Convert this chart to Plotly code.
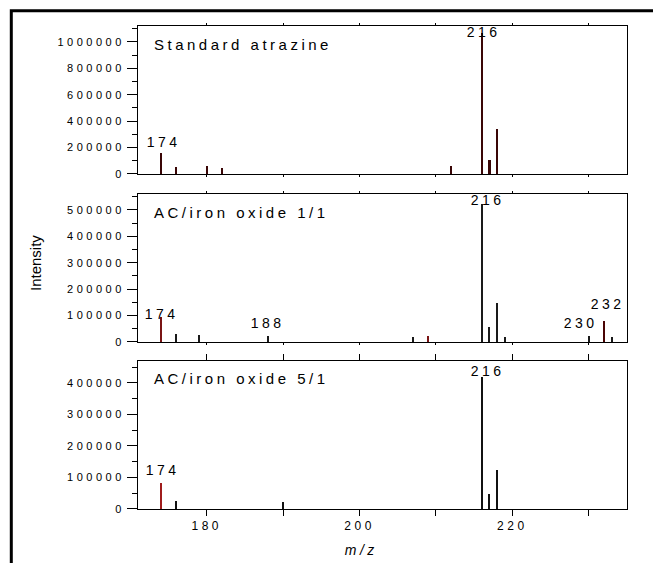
import plotly.graph_objects as go

# ---------------- data ----------------
panel_titles = ["Standard atrazine", "AC/iron oxide 1/1", "AC/iron oxide 5/1"]

mz_standard = [174, 176, 180, 182, 212, 216, 217, 218]
int_standard = [157000, 55000, 63000, 48000, 63000, 1065000, 106000, 341000]

mz_ac11 = [174, 176, 179, 188, 207, 209, 216, 217, 218, 219, 230, 232, 233]
int_ac11 = [95500, 32000, 25000, 23000, 20000, 24000, 521000, 58000, 146000, 20000, 23000, 80000, 18000]

mz_ac51 = [174, 176, 190, 216, 217, 218]
int_ac51 = [84000, 26000, 23000, 420000, 49000, 125000]

labels_standard = [174, 216]
labels_ac11 = [174, 188, 216, 230, 232]
labels_ac51 = [174, 216]

x_tick_values = [180, 190, 200, 210, 220, 230]
x_tick_labels = ["180", "", "200", "", "220", ""]
x_title = "<i>m/z</i>"
y_title = "Intensity"

# ---------------- style ----------------
FONT = "Arial, 'Liberation Sans', sans-serif"
PX_PER_UNIT = 489 / 64.0

panels = [
    dict(mz=mz_standard, val=int_standard, labels=labels_standard, yr=[0, 1120000], dt=200000, mdt=100000,
         dom=[0.6936, 1.0], default_color="#3a0606", special={}, default_w=2.2, special_w={},
         shifts={174: (3, 11), 216: (2, 1)}, title_y=0.872),
    dict(mz=mz_ac11, val=int_ac11, labels=labels_ac11, yr=[0, 560000], dt=100000, mdt=50000,
         dom=[0.3458, 0.6522], default_color="#1a1a1a",
         special={174: "#7a1414", 209: "#7a1414", 232: "#4a0404"}, default_w=1.2,
         special_w={232: 2.4, 174: 1.4},
         shifts={174: (1, 3), 188: (0, 13), 216: (6, 4), 230: (-8, 13), 232: (4, 17)}, title_y=0.872),
    dict(mz=mz_ac51, val=int_ac51, labels=labels_ac51, yr=[0, 470000], dt=100000, mdt=50000,
         dom=[0.0, 0.307], default_color="#111111", special={174: "#a01c1c"}, default_w=1.2,
         special_w={174: 1.6},
         shifts={174: (2, 12), 216: (6, 5)}, title_y=0.883),
]

fig = go.Figure()
annotations = [
    dict(text=y_title, xref="paper", yref="paper", x=(35 - 138) / 489, y=(509 - 263) / 483,
         textangle=-90, showarrow=False, font=dict(family=FONT, size=15, color="black"),
         xanchor="center", yanchor="middle"),
    dict(text=x_title, xref="paper", yref="paper", x=(361 - 138) / 489, y=(509 - 550) / 483,
         showarrow=False, font=dict(family=FONT, size=14, color="black"),
         xanchor="center", yanchor="middle"),
]

for i, p in enumerate(panels):
    n = "" if i == 0 else str(i + 1)
    colors = [p["special"].get(m, p["default_color"]) for m in p["mz"]]
    widths = [p["special_w"].get(m, p["default_w"]) / PX_PER_UNIT for m in p["mz"]]
    fig.add_trace(go.Bar(x=p["mz"], y=p["val"], width=widths, marker=dict(color=colors, line=dict(width=0)),
                         xaxis="x" + n, yaxis="y" + n, showlegend=False, hoverinfo="x+y"))
    last = i == len(panels) - 1
    fig.layout["xaxis" + n] = dict(
        domain=[0, 1], anchor="y" + n, range=[171, 235], tickmode="array",
        tickvals=x_tick_values, ticktext=x_tick_labels if last else [""] * len(x_tick_values),
        showticklabels=last, ticks="outside", ticklen=6 if last else 2, tickwidth=1, tickcolor="black",
        showline=True, linecolor="black", linewidth=1, mirror="ticks", showgrid=False, zeroline=False,
        tickfont=dict(family=FONT, size=12, color="black"),
    )
    fig.layout["yaxis" + n] = dict(
        domain=p["dom"], anchor="x" + n, range=p["yr"], tickmode="linear", tick0=0, dtick=p["dt"],
        tickformat="d", ticks="outside", ticklen=10, tickwidth=1, tickcolor="black",
        minor=dict(dtick=p["mdt"], tick0=0, ticks="outside", ticklen=5, tickcolor="black", showgrid=False),
        showline=True, linecolor="black", linewidth=1, mirror=True, showgrid=False, zeroline=False,
        tickfont=dict(family=FONT, size=11, color="black"),
    )
    annotations.append(dict(text=panel_titles[i], xref="x" + n + " domain", yref="y" + n + " domain",
                            x=0.029, y=p["title_y"], xanchor="left", yanchor="middle", align="left",
                            showarrow=False, font=dict(family=FONT, size=15, color="black")))
    for m in p["labels"]:
        v = p["val"][p["mz"].index(m)]
        dx, dy = p["shifts"][m]
        annotations.append(dict(text=str(m), xref="x" + n, yref="y" + n, x=m, y=v,
                                xanchor="center", yanchor="middle", xshift=dx, yshift=dy,
                                showarrow=False, font=dict(family=FONT, size=14, color="black")))

fig.update_layout(
    width=653, height=563,
    margin=dict(l=138, r=26, t=26, b=54),
    paper_bgcolor="white", plot_bgcolor="white",
    annotations=annotations,
    shapes=[dict(type="rect", xref="paper", yref="paper",
                 x0=(11.3 - 138) / 489, y0=(509 - 10.7) / 483, x1=1.2, y1=-0.3,
                 line=dict(color="black", width=3), fillcolor="rgba(0,0,0,0)", layer="above")],
    bargap=0,
)

post = (
    "var s=document.createElement('style');"
    "s.textContent='body{margin:0}"
    ".xtick text,.x2tick text,.x3tick text,.ytick text,.y2tick text,.y3tick text,"
    ".annotation-text{letter-spacing:3.5px}"
    ".annotation[data-index=\"0\"] .annotation-text{letter-spacing:0}';"
    "document.head.appendChild(s);"
)

fig.write_html("out.html", post_script=post, config={"displayModeBar": False})
